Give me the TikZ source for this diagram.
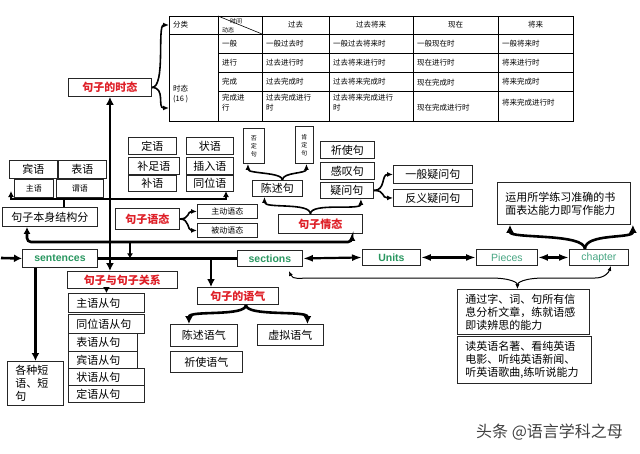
\documentclass[tikz,border=0pt]{standalone}
\usepackage{fontspec}
\setmainfont{Noto Sans CJK SC}
\newfontfamily\latinfont{Liberation Sans}
\usetikzlibrary{arrows.meta,calc}

\definecolor{tred}{RGB}{222,32,40}
\definecolor{tgreen}{RGB}{40,150,95}
\definecolor{tteal}{RGB}{70,165,130}

\newcommand\mainsz{\fontsize{11}{13}\selectfont}
\newcommand\smallsz{\fontsize{8}{10}\selectfont}
\newcommand\tablesz{\fontsize{7.5}{10}\selectfont}
\newcommand\tinysz{\fontsize{6}{8}\selectfont}

\tikzset{
  bx/.style={draw=black!85, line width=0.9pt, anchor=north west, inner sep=1pt, font=\mainsz},
  redbox/.style={bx, text=tred, font=\mainsz\bfseries},
  engbox/.style={bx, text=tgreen, font=\latinfont\bfseries\fontsize{10.5}{12}\selectfont},
  tealbox/.style={bx, text=tteal, font=\latinfont\fontsize{10.5}{12}\selectfont},
  smallbox/.style={bx, font=\smallsz},
  clause/.style={bx, inner xsep=8pt, align=left, text width=#1},
  tcell/.style={anchor=west, inner sep=1pt, font=\tablesz, align=left},
  thead/.style={inner sep=1pt, font=\tablesz},
  thk/.style={line width=2.6pt},
  dbl/.style={line width=2.2pt, {Latex[length=10pt,width=7pt]}-{Latex[length=10pt,width=7pt]}},
  brc/.style={line width=1.6pt, -{Latex[length=6pt,width=5pt]}},
  bigbrc/.style={line width=2.6pt, -{Latex[length=8pt,width=8pt]}},
  thinbrc/.style={line width=1pt, {Latex[length=5pt,width=4pt]}-{Latex[length=5pt,width=4pt]}}
}

\begin{document}
\begin{tikzpicture}[x=1pt, y=-1pt]
	\useasboundingbox (0,0) rectangle (640,453);

	% table of tenses
	\draw[line width=0.8pt] (169,16) rectangle (573,121);
	\draw[line width=0.8pt] (169,34) -- (573,34);
	\draw[line width=0.8pt] (218,53) -- (573,53);
	\draw[line width=0.8pt] (218,72) -- (573,72);
	\draw[line width=0.8pt] (218,91) -- (573,91);
	\draw[line width=0.8pt] (218,16) -- (218,121);
	\draw[line width=0.8pt] (262,16) -- (262,121);
	\draw[line width=0.8pt] (329,16) -- (329,121);
	\draw[line width=0.8pt] (413,16) -- (413,121);
	\draw[line width=0.8pt] (498,16) -- (498,121);
	\draw[line width=0.6pt] (218,16) -- (262,34);

	\node[tcell] (h0) at (172,25) {分类};
	\node[tcell, font=\tinysz] (h1a) at (229,21) {时间};
	\node[tcell, font=\tinysz] (h1b) at (221,30) {动态};
	\node[thead] (h2) at (295.5,25) {过去};
	\node[thead] (h3) at (371,25) {过去将来};
	\node[thead] (h4) at (455.5,25) {现在};
	\node[thead] (h5) at (535.5,25) {将来};
	\node[tcell] (h6) at (172,94) {时态\\(16 )};

	\node[tcell] (r1a) at (221,43.5) {一般};
	\node[tcell] (r1b) at (265,43.5) {一般过去时};
	\node[tcell] (r1c) at (332,43.5) {一般过去将来时};
	\node[tcell] (r1d) at (416,43.5) {一般现在时};
	\node[tcell] (r1e) at (501,43.5) {一般将来时};

	\node[tcell] (r2a) at (221,62.5) {进行};
	\node[tcell] (r2b) at (265,62.5) {过去进行时};
	\node[tcell] (r2c) at (332,62.5) {过去将来进行时};
	\node[tcell] (r2d) at (416,62.5) {现在进行时};
	\node[tcell] (r2e) at (501,62.5) {将来进行时};

	\node[tcell] (r3a) at (221,81.5) {完成};
	\node[tcell] (r3b) at (265,81.5) {过去完成时};
	\node[tcell] (r3c) at (332,81.5) {过去将来完成时};
	\node[tcell] (r3d) at (416,83) {现在完成时};
	\node[tcell] (r3e) at (501,81.5) {将来完成时};

	\node[tcell] (r4a) at (221,103) {完成进\\行};
	\node[tcell] (r4b) at (265,103) {过去完成进行\\时};
	\node[tcell] (r4c) at (332,103) {过去将来完成进行\\时};
	\node[tcell] (r4d) at (416,108) {现在完成进行时};
	\node[tcell] (r4e) at (501,103) {将来完成进行时};

	\coordinate (catin) at (169,25);
	\coordinate (tensein) at (169,108);

	% left part
	\node[redbox, minimum width=83, minimum height=18] (tense) at (68,78) {句子的时态};

	\node[bx, minimum width=48, minimum height=18] (binyu) at (9,160) {宾语};
	\node[bx, minimum width=48, minimum height=18] (biaoyu) at (58,160) {表语};
	\node[smallbox, minimum width=39, minimum height=18] (zhuyu) at (14,179) {主语};
	\node[smallbox, minimum width=47, minimum height=18] (weiyu) at (56,179) {谓语};
	\node[bx, minimum width=95, minimum height=19] (jiegou) at (2,207) {句子本身结构分};

	\node[bx, minimum width=48, minimum height=17] (dingyu) at (128,137) {定语};
	\node[bx, minimum width=47, minimum height=17] (zhuangyu) at (186,137) {状语};
	\node[bx, minimum width=51, minimum height=17] (buzuyu) at (128,157) {补足语};
	\node[bx, minimum width=47, minimum height=17] (charuyu) at (186,157) {插入语};
	\node[bx, minimum width=48, minimum height=16] (buyu) at (128,175) {补语};
	\node[bx, minimum width=47, minimum height=16] (tongweiyu) at (186,175) {同位语};

	\node[redbox, minimum width=64, minimum height=21] (voice) at (115,208) {句子语态};
	\node[smallbox, minimum width=60, minimum height=14] (active) at (197,204) {主动语态};
	\node[smallbox, minimum width=60, minimum height=14] (passive) at (197,223) {被动语态};

	% sentence types
	\node[bx, font=\tinysz, align=center, minimum width=21, minimum height=35] (fouding) at (243,128) {否\\定\\句};
	\node[bx, font=\tinysz, align=center, minimum width=18, minimum height=37] (kending) at (295,126) {肯\\定\\句};
	\node[bx, minimum width=50, minimum height=16] (chenshu) at (252,180) {陈述句};
	\node[bx, minimum width=54, minimum height=17] (qishi) at (320,141) {祈使句};
	\node[bx, minimum width=54, minimum height=17] (gantan) at (320,162) {感叹句};
	\node[bx, minimum width=53, minimum height=16] (yiwen) at (320,182) {疑问句};
	\node[bx, minimum width=79, minimum height=18] (yiban) at (393,165) {一般疑问句};
	\node[bx, minimum width=79, minimum height=17] (fanyi) at (393,189) {反义疑问句};
	\node[redbox, minimum width=84, minimum height=19] (qingtai) at (278,214) {句子情态};

	% main line
	\node[engbox, minimum width=75, minimum height=18] (sentences) at (22,249) {sentences};
	\node[engbox, minimum width=65, minimum height=16] (sections) at (237,250) {sections};
	\node[engbox, minimum width=58, minimum height=16] (units) at (362,249) {Units};
	\node[tealbox, minimum width=61, minimum height=16] (pieces) at (476,249) {Pieces};
	\node[tealbox, minimum width=59, minimum height=16] (chapter) at (569,249) {chapter};

	\node[clause=117, minimum height=42] (writing) at (497,182) {运用所学练习准确的书\\面表达能力即写作能力};
	\node[clause=116, minimum height=45] (tongguo) at (457,289) {通过字、词、句所有信\\息分析文章，练就语感\\即读辨思的能力};
	\node[clause=118, minimum height=47] (duyingyu) at (457,336) {读英语名著、看纯英语\\电影、听纯英语新闻、\\听英语歌曲,练听说能力};

	% lower left
	\node[redbox, minimum width=110, minimum height=17] (relation) at (67,271) {句子与句子关系};
	\node[clause=60, minimum height=19] (c1) at (68,293) {主语从句};
	\node[clause=60, minimum height=19] (c2) at (68,314) {同位语从句};
	\node[clause=53, minimum height=18] (c3) at (68,333) {表语从句};
	\node[clause=53, minimum height=17] (c4) at (68,351) {宾语从句};
	\node[clause=60, minimum height=17] (c5) at (68,368) {状语从句};
	\node[clause=60, minimum height=17] (c6) at (68,385) {定语从句};
	\node[clause=40, minimum height=44] (phrases) at (7,361) {各种短\\语、短\\句};

	\node[redbox, minimum width=81, minimum height=17] (mood) at (197,287) {句子的语气};
	\node[bx, minimum width=67, minimum height=22] (declm) at (170,324) {陈述语气};
	\node[bx, minimum width=66, minimum height=21] (subjm) at (257,324) {虚拟语气};
	\node[bx, minimum width=72, minimum height=21] (impm) at (170,351) {祈使语气};

	\node[anchor=west, inner sep=0pt, font=\fontsize{16}{18}\selectfont, text=black!75] (mark) at (476,432) {头条 @语言学科之母};

	% connectors
	\coordinate (rowL) at (11,199);
	\coordinate (rowR) at (226,199);
	\coordinate (loopL) at (27,242);
	\coordinate (loopR) at (352,242);
	\coordinate (tick) at (130,242);
	\coordinate (drop) at (211,258);
	\coordinate (inlet) at (1,258);

	\draw[thk, {Latex[length=8pt,width=8pt]}-{Latex[length=8pt,width=8pt]}] (tense.south) -- (tense.south |- relation.north);
	\draw[thk, line width=2.3pt, {Latex[length=6pt,width=6pt]}-{Latex[length=6pt,width=6pt]}] ([yshift=8pt]rowL) -- (rowL) -- (rowR) -- ([yshift=8pt]rowR);
	\draw[thk, line width=2.3pt] ([xshift=14pt]jiegou.north) -- ([xshift=14pt]jiegou.north |- rowL);
	\draw[thk, rounded corners=4pt, {Latex[length=7pt,width=7pt]}-{Latex[length=7pt,width=7pt]}] (jiegou.south -| loopL) -- (loopL) -- (loopR) -- (loopR |- qingtai.south);
	\draw[thk, line width=2pt, -{Latex[length=5pt,width=6pt]}] (tick) -- (tick |- sentences.east);
	\draw[thk] (sentences.east) -- (sections.west);
	\draw[thk, -{Latex[length=8pt,width=8pt]}] (inlet) -- (sentences.west);
	\draw[thk, -{Latex[length=8pt,width=8pt]}] (drop) -- (drop |- mood.north);
	\draw[thk, -{Latex[length=8pt,width=8pt]}] (phrases.north |- sentences.south) -- (phrases.north);
	\draw[thk, line width=2.2pt, -{Latex[length=6pt,width=7pt]}] (relation.south -| c1.north) -- (c1.north);

	\draw[dbl] (sections.east) -- (units.west);
	\draw[dbl] (units.east) -- (pieces.west);
	\draw[dbl] (pieces.east) -- (chapter.west);

	\draw[brc] (tense.east) .. controls +(14,0) and +(-12,0) .. (catin);
	\draw[brc] (tense.east) .. controls +(14,0) and +(-12,0) .. (tensein);
	\draw[brc] (voice.east) .. controls +(10,0) and +(-10,0) .. (active.west);
	\draw[brc] (voice.east) .. controls +(10,0) and +(-10,0) .. (passive.west);
	\draw[brc] (yiwen.east) .. controls +(12,0) and +(-12,0) .. (yiban.west);
	\draw[brc] (yiwen.east) .. controls +(12,0) and +(-12,0) .. (fanyi.west);
	\draw[brc] ([xshift=5pt]chenshu.north) .. controls +(0,-8) and +(0,10) .. ([xshift=-6pt]fouding.south);
	\draw[brc] ([xshift=5pt]chenshu.north) .. controls +(0,-8) and +(0,10) .. ([xshift=2pt]kending.south);
	\draw[brc] ([xshift=-10pt]qingtai.north) .. controls +(0,-12) and +(0,12) .. ([xshift=-13pt]chenshu.south);
	\draw[brc] ([xshift=-10pt]qingtai.north) .. controls +(0,-12) and +(0,12) .. ([xshift=-13pt]yiwen.south east);

	\draw[bigbrc] ([xshift=8pt]mood.south) .. controls +(0,12) and +(0,-14) .. ([xshift=-15pt]declm.north);
	\draw[bigbrc] ([xshift=8pt]mood.south) .. controls +(0,12) and +(0,-14) .. ([xshift=17pt]subjm.north);
	\draw[bigbrc] ([xshift=-14pt]chapter.north) .. controls +(0,-16) and +(0,14) .. ([xshift=13pt]writing.south west);
	\draw[bigbrc] ([xshift=-14pt]chapter.north) .. controls +(0,-16) and +(0,14) .. ([xshift=2pt]writing.south east);

	\draw[thinbrc] ([xshift=-14pt,yshift=-4pt]sections.south east) .. controls +(4,9) and +(-10,0) .. (310,278) -- (490,278) .. controls +(22,0) and +(0,-6) .. ([xshift=-6pt]tongguo.north);
	\draw[thinbrc] ([xshift=-6pt]tongguo.north) .. controls +(0,-6) and +(-22,0) .. (545,278) -- (595,278) .. controls +(10,0) and +(-2,6) .. ([xshift=12pt]chapter.south);
\end{tikzpicture}
\end{document}
